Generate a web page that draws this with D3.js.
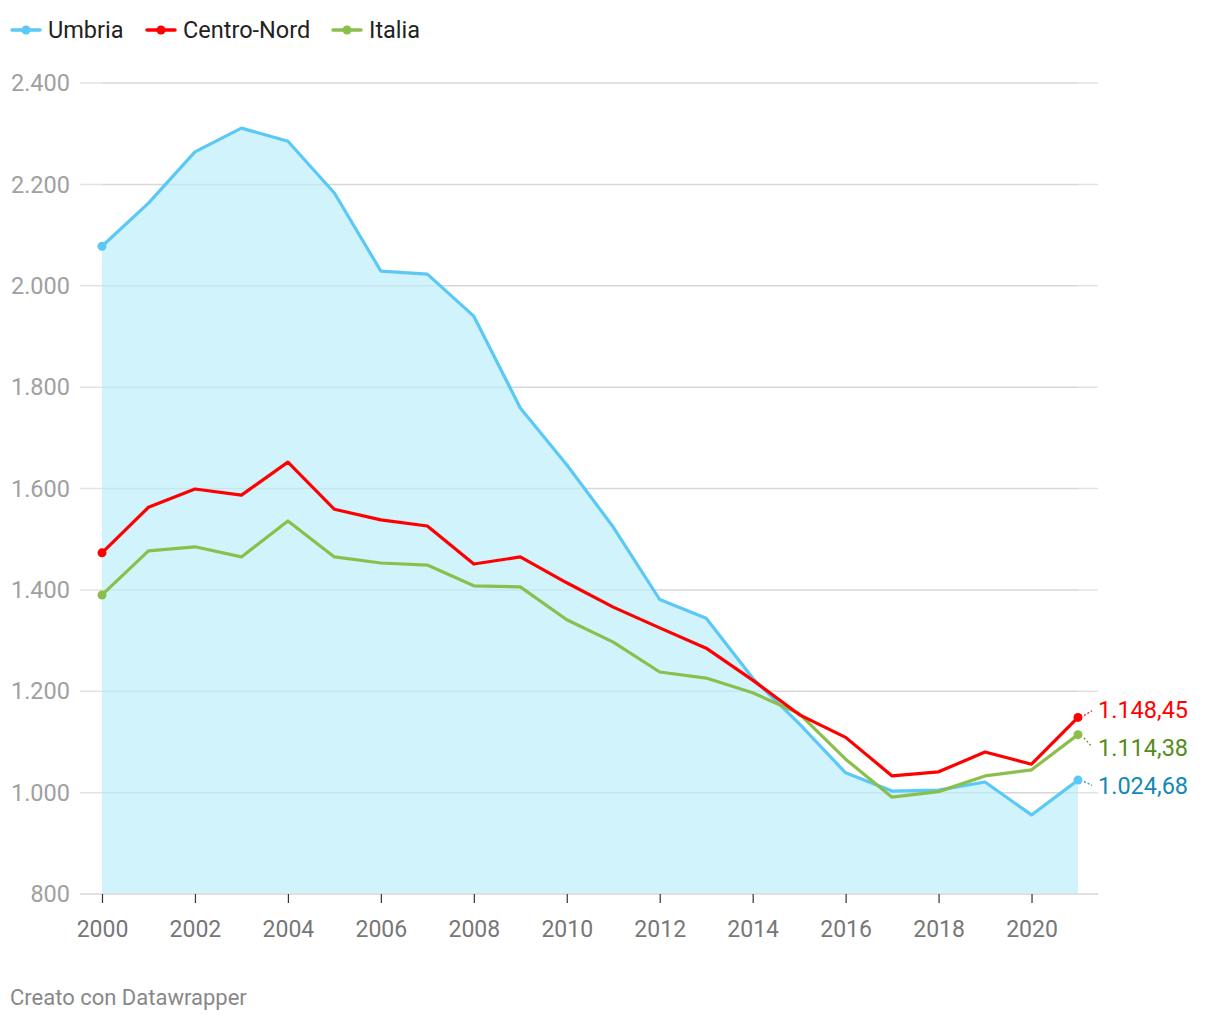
<!DOCTYPE html>
<html>
<head>
<meta charset="utf-8">
<script src="https://cdn.jsdelivr.net/npm/d3@7"></script>
<style>
  html, body { margin: 0; padding: 0; background: #fff; }
  svg { display: block; font-family: Roboto, "Noto Sans", sans-serif; }
</style>
</head>
<body>
<svg id="chart" width="1220" height="1020"></svg>
<script>
const years = [2000,2001,2002,2003,2004,2005,2006,2007,2008,2009,2010,2011,2012,2013,2014,2015,2016,2017,2018,2019,2020,2021];
const umbria = [2078,2163,2264,2311,2285,2183,2029,2023,1940,1759,1647,1524,1381,1344,1226,1136,1039,1003,1005,1021,956,1024.68];
const centroNord = [1473,1563,1599,1587,1652,1559,1538,1526,1451,1465,1414,1366,1325,1285,1222,1154,1109,1033,1041,1080,1056,1148.45];
const italia = [1390,1477,1485,1465,1536,1465,1453,1449,1408,1406,1341,1297,1238,1226,1197,1156,1066,991,1002,1033,1045,1114.38];
const seriesNames = ["Umbria","Centro-Nord","Italia"];
const yTicks = [800,1000,1200,1400,1600,1800,2000,2200,2400];
const xTicks = [2000,2002,2004,2006,2008,2010,2012,2014,2016,2018,2020];
const endLabels = ["1.024,68","1.148,45","1.114,38"];

const colors = ["#5bc8f6","#ff0000","#8bbf4c"];
const labelColors = ["#1289b4","#ff0000","#558c1c"];
const seriesData = [umbria, centroNord, italia];

const svg = d3.select("#chart");
const x = d3.scaleLinear().domain([2000, 2021]).range([102, 1078]);
const y = d3.scaleLinear().domain([800, 2400]).range([894, 83]);

const itFmt = d3.formatLocale({decimal: ",", thousands: ".", grouping: [3], currency: ["€",""]});
const fmtTick = itFmt.format(",d");

// grid lines
svg.append("g").selectAll("line").data(yTicks.filter(d => d > 800)).join("line")
  .attr("x1", 80).attr("x2", 1098)
  .attr("y1", d => y(d)).attr("y2", d => y(d))
  .attr("stroke", "#e3e3e3").attr("stroke-width", 1.5);

// area for Umbria
const area = d3.area().x((d,i) => x(years[i])).y0(y(800)).y1(d => y(d));
svg.append("path").datum(umbria).attr("d", area).attr("fill", "#d1f3fc");

// grid visible through area
svg.append("g").selectAll("line").data(yTicks.filter(d => d > 800)).join("line")
  .attr("x1", 102).attr("x2", 1078)
  .attr("y1", d => y(d)).attr("y2", d => y(d))
  .attr("stroke", "#000").attr("stroke-opacity", 0.05).attr("stroke-width", 1.5);

// baseline
svg.append("line").attr("x1", 80).attr("x2", 1098).attr("y1", y(800)).attr("y2", y(800))
  .attr("stroke", "#e0e0e0").attr("stroke-width", 2);

// y tick labels
svg.append("g").selectAll("text").data(yTicks).join("text")
  .attr("x", 70).attr("y", d => y(d)).attr("dy", "0.35em")
  .attr("text-anchor", "end").attr("fill", "#a0a0a0").attr("font-size", 23.5)
  .text(d => fmtTick(d));

// x axis
const xAxis = d3.axisBottom(x).tickValues(xTicks).tickFormat(d3.format("d")).tickSize(9).tickPadding(18);
const gx = svg.append("g").attr("transform", `translate(0,${y(800)})`).call(xAxis);
gx.select(".domain").remove();
gx.selectAll(".tick line").attr("stroke", "#333").attr("stroke-width", 1.2);
gx.selectAll(".tick text").attr("fill", "#777").attr("font-size", 23).attr("font-family", "Roboto, sans-serif");

// lines
const line = d3.line().x((d,i) => x(years[i])).y(d => y(d));
const order = [0, 2, 1];
order.forEach(k => {
  svg.append("path").datum(seriesData[k]).attr("d", line)
    .attr("fill", "none").attr("stroke", colors[k]).attr("stroke-width", 3.2)
    .attr("stroke-linejoin", "round");
});

// start and end dots
order.forEach(k => {
  const d = seriesData[k];
  [0, d.length - 1].forEach(i => {
    svg.append("circle").attr("cx", x(years[i])).attr("cy", y(d[i])).attr("r", 4.5).attr("fill", colors[k]);
  });
});

// end labels
const labelY = [786, 710, 748];
seriesData.forEach((d, k) => {
  const last = d[d.length - 1];
  const px = x(2021), py = y(last);
  if (Math.abs(labelY[k] - py) > 4) {
    svg.append("line").attr("x1", px + 6).attr("y1", py + (labelY[k] - py) * 0.25)
      .attr("x2", px + 14).attr("y2", labelY[k] - (labelY[k] - py) * 0.1)
      .attr("stroke", labelColors[k]).attr("stroke-width", 1.2).attr("stroke-dasharray", "2,2");
  }
  svg.append("text").attr("x", 1098).attr("y", labelY[k]).attr("dy", "0.35em")
    .attr("fill", labelColors[k]).attr("font-size", 23.5).text(endLabels[k]);
});

// legend
const legendX = [12, 147, 333];
seriesNames.forEach((name, k) => {
  const g = svg.append("g").attr("transform", `translate(${legendX[k]},30)`);
  g.append("line").attr("x1", 0).attr("x2", 28).attr("y1", 0).attr("y2", 0)
    .attr("stroke", colors[k]).attr("stroke-width", 3.5).attr("stroke-linecap", "round");
  g.append("circle").attr("cx", 14).attr("cy", 0).attr("r", 4.5).attr("fill", colors[k]);
  g.append("text").attr("x", 36).attr("y", 0).attr("dy", "0.35em")
    .attr("font-size", 23.5).attr("fill", "#222").text(name);
});

// footer
svg.append("text").attr("x", 10).attr("y", 997).attr("dy", "0.35em")
  .attr("font-size", 22).attr("fill", "#888").text("Creato con Datawrapper");
</script>
</body>
</html>
